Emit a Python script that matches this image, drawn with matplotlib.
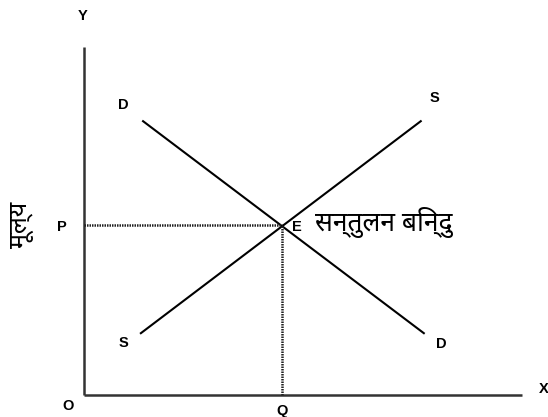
import matplotlib
matplotlib.use("Agg")
import matplotlib.pyplot as plt

# escala: unidades del diagrama
s = 43.8
ox, oy = 83.5, 394.5   # origen O en pixeles

# datos (cantidad, precio)
demand_q = [1.36, 7.77]
demand_p = [6.24, 1.40]
supply_q = [1.31, 7.70]
supply_p = [1.40, 6.24]
eq_q = 4.53
eq_p = 3.87
x_max = 10.0
y_max = 7.94

hindi = ['Noto Sans Devanagari', 'Lohit Devanagari', 'FreeSans', 'Mangal', 'DejaVu Sans']
latin = ['Liberation Sans', 'DejaVu Sans']

fig = plt.figure(figsize=(5.48, 4.17), dpi=100)
ax = fig.add_axes([0, 0, 1, 1])
ax.set_xlim(-ox / s, (548 - ox) / s)
ax.set_ylim(-(417 - oy) / s, oy / s)
ax.axis('off')

# ejes
ax.plot([0, x_max], [0, 0], color='#333333', lw=1.8, solid_capstyle='butt')
ax.plot([0, 0], [0, y_max], color='#333333', lw=1.8, solid_capstyle='butt')

# curvas
ax.plot(demand_q, demand_p, color='black', lw=1.5)
ax.plot(supply_q, supply_p, color='black', lw=1.5)

# lineas punteadas
ax.plot([0, eq_q], [eq_p, eq_p], color='#222222', lw=1.8, linestyle=(0, (0.6, 0.4)))
ax.plot([eq_q, eq_q], [0, eq_p], color='#222222', lw=1.8, linestyle=(0, (0.6, 0.4)))

kw = dict(fontsize=10.5, fontweight='bold', family=latin, ha='center', va='center')
ax.text(-0.03, 8.64, 'Y', **kw)
ax.text(10.5, 0.12, 'X', **kw)
ax.text(-0.36, -0.26, 'O', **kw)
ax.text(eq_q, -0.37, 'Q', **kw)
ax.text(-0.49, eq_p - 0.05, 'P', **kw)
ax.text(demand_q[0] - 0.45, demand_p[0] + 0.37, 'D', **kw)
ax.text(demand_q[1] + 0.40, demand_p[1] - 0.24, 'D', **kw)
ax.text(supply_q[0] - 0.40, supply_p[0] - 0.22, 'S', **kw)
ax.text(supply_q[1] + 0.31, supply_p[1] + 0.53, 'S', **kw)
ax.text(eq_q + 0.34, eq_p - 0.05, 'E', **kw)

ax.text(5.28, eq_p + 0.05, 'सन्तुलन बिन्दु', fontsize=19, family=hindi,
        ha='left', va='center')
ax.text(-1.41, eq_p, 'मूल्य', fontsize=18, fontweight='bold', family=hindi,
        rotation=90, ha='center', va='center')

fig.savefig('out.png', dpi=100)
